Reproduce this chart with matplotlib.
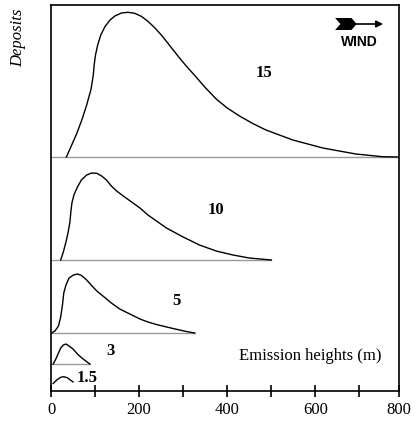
import matplotlib
matplotlib.use("Agg")
import matplotlib.pyplot as plt
from matplotlib.patches import Polygon

plt.rcParams['font.family'] = ['Liberation Serif', 'DejaVu Serif']

# wind speed classes (labels) and their deposit curves
# x = distance (m), h = deposit height above the panel baseline
x15 = [35, 47, 58, 70, 81, 91, 96, 98, 101, 106, 113, 122, 134, 145, 160, 175,
       190, 205, 220, 236, 251, 266, 281, 296, 311, 326, 349, 375, 400, 428, 458,
       488, 549, 617, 692, 752, 788]
h15 = [0, 12, 23, 37, 52, 68, 82, 92, 102, 112, 122, 130, 137, 141, 144, 144.7,
       143.7, 140.7, 135.7, 129, 121.7, 113.4, 105, 96.7, 89, 81.7, 70, 58, 49, 41, 33.5,
       27, 17, 9, 3, 0.3, 0]

x10 = [22, 28, 34, 39, 43, 45, 47.5, 52, 60, 69, 81, 92, 104, 115, 126, 137,
       149, 164, 183, 202, 220, 262, 300, 337, 375, 413, 450, 500]
h10 = [0, 8, 18, 28, 38, 48, 57, 65, 73, 80, 85, 87, 86.7, 84, 80, 74,
       69, 64, 58, 52, 45, 32, 23, 15, 9, 5, 2, 0]

x5 = [1.5, 9, 17, 22, 26, 29, 34, 41, 51, 60, 69, 81, 92, 104, 119, 137, 156,
      179, 202, 220, 239, 277, 307, 326]
h5 = [0, 2, 7, 16, 28, 40, 48, 55, 58, 59, 57.6, 53, 47.6, 42, 36.6, 30, 24,
      19, 14, 11, 8.5, 4.5, 1.5, 0]

x3 = [5, 11, 16, 22, 28, 34, 41, 50, 62, 73, 88]
h3 = [0, 5, 10, 16, 19, 20, 18, 15, 9, 5, 0]

x1_5 = [5, 13, 22, 29, 37, 44, 50]
h1_5 = [0, 3.5, 6.2, 6.8, 5.8, 3.5, 1.5]

labels = ['15', '10', '5', '3', '1.5']
baselines = [234, 131, 58, 27, 7.5]
baseline_ends = [790, 500, 326, 88, None]
label_pos = [(484, 318), (375, 181), (285, 90), (134, 40), (83, 13)]
curves = [(x15, h15), (x10, h10), (x5, h5), (x3, h3), (x1_5, h1_5)]

xticks = [0, 200, 400, 600, 800]
minor_ticks = [100, 300, 500, 700]

fig = plt.figure(figsize=(4.17, 4.23), dpi=100)
ax = fig.add_axes([51 / 417, 32 / 423, 348 / 417, 386 / 423])

for (xs, hs), base, end, lab, pos in zip(curves, baselines, baseline_ends, labels, label_pos):
    if end is not None:
        ax.plot([0, end], [base, base], color='#999999', lw=1.0, zorder=1)
    ax.plot(xs, [base + h for h in hs], color='black', lw=1.0, zorder=2,
            solid_joinstyle='round')
    ax.text(pos[0], pos[1], lab, fontsize=12, fontweight='bold', ha='center', va='center')

ax.text(589, 35, 'Emission heights (m)', fontsize=12, ha='center', va='center')

# wind arrow
fletch = Polygon([(645, 373), (682, 373), (694, 367), (682, 361), (645, 361), (657, 367)],
                 closed=True, color='black', lw=0)
ax.add_patch(fletch)
ax.annotate('', xy=(754, 367), xytext=(690, 367),
            arrowprops=dict(arrowstyle='-|>', color='black', lw=1.2,
                            mutation_scale=10, shrinkA=0, shrinkB=0))
ax.text(699, 349, 'WIND', fontsize=10, fontweight='bold', ha='center', va='center',
        family=['Liberation Sans', 'DejaVu Sans'])

fig.text(18 / 417, 1 - 38 / 423, 'Deposits', rotation=90, fontsize=12,
         style='italic', ha='center', va='center')

ax.set_yticks([])
ax.set_xticks([0, 200, 400, 600, 790])
ax.set_xticklabels([str(v) for v in xticks])
ax.set_xticks(minor_ticks, minor=True)
ax.set_xlim(0, 790)
ax.set_ylim(0, 386)
ax.tick_params(axis='x', which='both', direction='inout', length=8, width=1.2,
               labelsize=12, pad=4)
for sp in ax.spines.values():
    sp.set_linewidth(1.2)

fig.savefig('out.png', dpi=100)
